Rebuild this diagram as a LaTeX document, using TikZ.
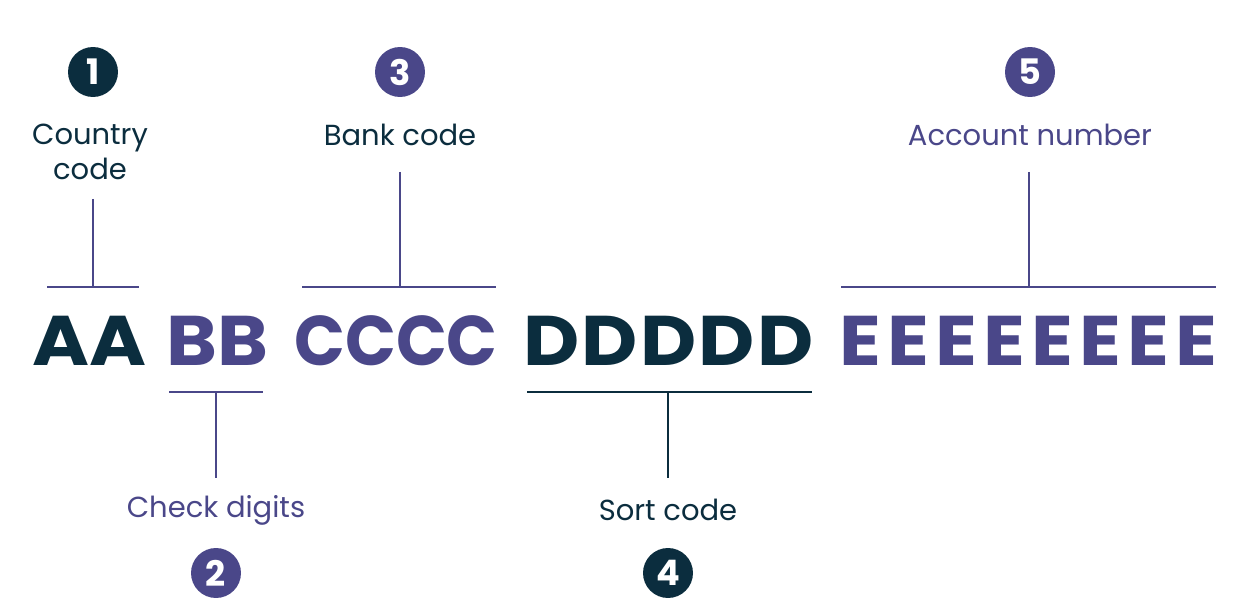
\documentclass[tikz,border=0pt]{standalone}
\usepackage{fontspec}
\setmainfont{Poppins}
\usetikzlibrary{positioning}
\definecolor{ibannavy}{RGB}{11,45,62}
\definecolor{ibanpurple}{RGB}{74,71,137}

\begin{document}
\begin{tikzpicture}[x=0.02cm, y=-0.02cm,
  font=\fontsize{16.5}{20}\selectfont,
  num/.style={circle, fill=#1, text=white, minimum size=1cm,
              inner sep=0pt, font=\fontsize{20}{20}\selectfont\bfseries},
  part/.style={text=#1, anchor=base west, inner sep=0pt,
               transform shape, xscale=1.1,
               font=\fontsize{40}{40}\selectfont\bfseries},
  lab/.style={text=#1, align=center, inner sep=0pt},
  bar/.style={draw=ibanpurple, line width=1.1pt}
]
\useasboundingbox (0,0) rectangle (1245,608);
% the IBAN parts
\node[part=ibannavy] (aa) at (32,365) {AA};
\node[part=ibanpurple] (bb) at (166,365) {BB};
\node[part=ibanpurple, xscale=0.95/1.1] (cc) at (294,365) {CCCC};
\node[part=ibannavy] (dd) at (523,365) {\addfontfeature{LetterSpace=3}DDDDD};
\node[part=ibanpurple] (ee) at (839,365) {\addfontfeature{LetterSpace=8}EEEEEEEE};
% labels above
\node[num=ibannavy] (one) at (93,72) {1};
\node[lab=ibannavy] (country) at (90,152) {Country\\code};
\node[num=ibanpurple] (three) at (400,72) {3};
\node[lab=ibannavy] (bank) at (400,135) {Bank code};
\node[num=ibanpurple] (five) at (1030,72) {5};
\node[lab=ibanpurple] (account) at (1030,135) {Account number};
% labels below
\node[lab=ibanpurple] (check) at (216,510) {Check digits};
\node[num=ibanpurple] (two) at (216,573) {2};
\node[lab=ibannavy] (sort) at (668,510) {Sort code};
\node[num=ibannavy] (four) at (668,573) {4};
% bracket points
\coordinate (aatop) at (93,199);  \coordinate (aamid) at (93,287);
\coordinate (aal) at (47,287);    \coordinate (aar) at (139,287);
\coordinate (cctop) at (400,172); \coordinate (ccmid) at (400,287);
\coordinate (ccl) at (302,287);   \coordinate (ccr) at (496,287);
\coordinate (eetop) at (1029,172); \coordinate (eemid) at (1029,287);
\coordinate (eel) at (841,287);   \coordinate (eer) at (1216,287);
\coordinate (bbmid) at (216,392); \coordinate (bbbot) at (216,478);
\coordinate (bbl) at (169,392);   \coordinate (bbr) at (263,392);
\coordinate (ddmid) at (668,392); \coordinate (ddbot) at (668,478);
\coordinate (ddl) at (527,392);   \coordinate (ddr) at (812,392);
% brackets
\draw[bar] (aatop) -- (aamid);
\draw[bar] (aal) -- (aar);
\draw[bar] (cctop) -- (ccmid);
\draw[bar] (ccl) -- (ccr);
\draw[bar] (eetop) -- (eemid);
\draw[bar] (eel) -- (eer);
\draw[bar] (bbmid) -- (bbbot);
\draw[bar] (bbl) -- (bbr);
\draw[bar, draw=ibannavy] (ddmid) -- (ddbot);
\draw[bar, draw=ibannavy] (ddl) -- (ddr);
\end{tikzpicture}
\end{document}
